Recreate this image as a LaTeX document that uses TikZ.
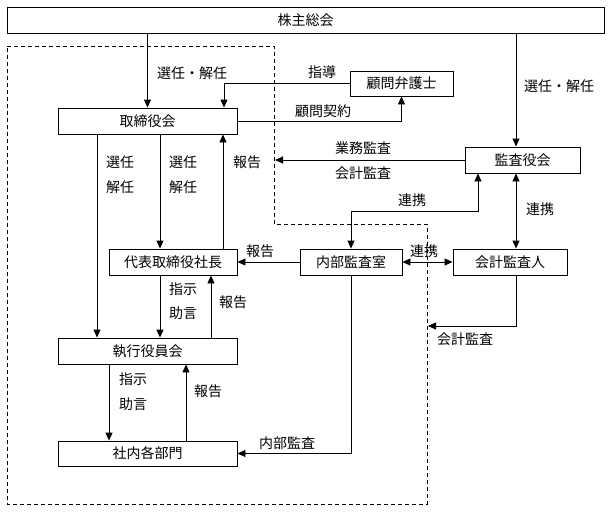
\documentclass[tikz,border=0pt]{standalone}
\usepackage{fontspec}
\setmainfont{Noto Sans CJK JP}
\usetikzlibrary{arrows.meta,calc}
\begin{document}
\begin{tikzpicture}[x=1pt,y=-1pt,
  every node/.style={font=\fontsize{14}{16}\selectfont},
  box/.style={draw,line width=0.9pt,minimum height=26pt,inner sep=0pt},
  lbl/.style={inner sep=0pt},
  arr/.style={line width=0.9pt,-{Triangle[length=8pt,width=7pt]}},
  arrb/.style={line width=0.9pt,{Triangle[length=8pt,width=7pt]}-{Triangle[length=8pt,width=7pt]}},
  dashline/.style={line width=0.9pt,dash pattern=on 4pt off 3pt}]
\useasboundingbox (0,0) rectangle (612,511);
% boxes
\node[box,minimum width=597pt] (kabu) at (305.5,20) {株主総会};
\node[box,minimum width=179pt] (tori) at (147.5,121) {取締役会};
\node[box,minimum width=103pt,minimum height=25pt] (komon) at (401.5,83.5) {顧問弁護士};
\node[box,minimum width=115pt] (kansa) at (522.5,160) {監査役会};
\node[box,minimum width=128pt] (daihyo) at (173,262) {代表取締役社長};
\node[box,minimum width=102pt] (naibu) at (351,262) {内部監査室};
\node[box,minimum width=114pt] (kaikei) at (510,262) {会計監査人};
\node[box,minimum width=179pt] (shikko) at (147.5,351) {執行役員会};
\node[box,minimum width=179pt,minimum height=25pt] (shanai) at (147.5,453.5) {社内各部門};
% helper coordinates
\coordinate (xk) at (516,0);
\coordinate (xs) at (224,0);
\coordinate (dl) at (275,0);
\coordinate (r1) at (478,211);
\coordinate (ka) at (428,326);
\coordinate (x97) at (97,0);
\coordinate (x160) at (160,0);
\coordinate (x223) at (223,0);
\coordinate (x211) at (211,0);
\coordinate (x109) at (109,0);
\coordinate (x186) at (186,0);
% dashed region
\draw[dashline] (7,46) -- (274,46) -- (274,224) -- (427,224) -- (427,504) -- (7,504) -- cycle;
% connectors
\draw[arr] (kabu.south -| tori) -- (tori.north);
\draw[arr] (kabu.south -| xk) -- (kansa.north -| xk);
\draw[arr] (komon.west) -| (tori.north -| xs);
\draw[arr] (tori.east) -| (komon.south);
\draw[arr] (kansa.west) -- (kansa.west -| dl);
\draw[arrb] (kansa.south -| r1) -- (r1) -| (naibu.north);
\draw[arrb] (kansa.south -| xk) -- (kaikei.north -| xk);
\draw[arrb] (naibu.east) -- (kaikei.west);
\draw[arr] (naibu.west) -- (daihyo.east);
\draw[arr] (kaikei.south -| xk) |- (ka);
\draw[arr] (naibu.south) |- (shanai.east);
\draw[arr] (tori.south -| x97) -- (shikko.north -| x97);
\draw[arr] (tori.south -| x160) -- (daihyo.north -| x160);
\draw[arr] (daihyo.north -| x223) -- (tori.south -| x223);
\draw[arr] (daihyo.south -| x160) -- (shikko.north -| x160);
\draw[arr] (shikko.north -| x211) -- (daihyo.south -| x211);
\draw[arr] (shikko.south -| x109) -- (shanai.north -| x109);
\draw[arr] (shanai.north -| x186) -- (shikko.south -| x186);
% labels
\node[lbl] (l1) at (192,73) {選任・解任};
\node[lbl] (l2) at (322,72) {指導};
\node[lbl] (l3) at (323,111) {顧問契約};
\node[lbl] (l4) at (559,86) {選任・解任};
\node[lbl] (l5) at (120,162) {選任};
\node[lbl] (l6) at (120,187) {解任};
\node[lbl] (l7) at (183,162) {選任};
\node[lbl] (l8) at (183,187) {解任};
\node[lbl] (l9) at (247,162) {報告};
\node[lbl] (l10) at (363,148) {業務監査};
\node[lbl] (l11) at (363,173) {会計監査};
\node[lbl] (l12) at (412,200) {連携};
\node[lbl] (l13) at (540,209) {連携};
\node[lbl] (l14) at (260,251) {報告};
\node[lbl] (l15) at (424,251) {連携};
\node[lbl] (l16) at (183,289) {指示};
\node[lbl] (l17) at (183,313) {助言};
\node[lbl] (l18) at (233,302) {報告};
\node[lbl] (l19) at (465,339) {会計監査};
\node[lbl] (l20) at (133,379) {指示};
\node[lbl] (l21) at (133,404) {助言};
\node[lbl] (l22) at (208,391) {報告};
\node[lbl] (l23) at (287,443) {内部監査};
\end{tikzpicture}
\end{document}
